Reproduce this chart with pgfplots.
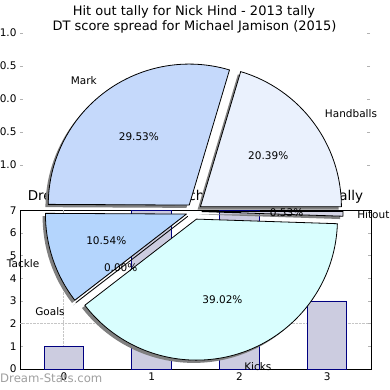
\documentclass[border=0pt]{standalone}
\usepackage{pgfplots}
\pgfplotsset{compat=1.18}
\usepackage{fontspec}
\setmainfont{DejaVu Sans}
\definecolor{cHand}{HTML}{EAF1FD}
\definecolor{cMark}{HTML}{C5D9FB}
\definecolor{cTack}{HTML}{B4D5FD}
\definecolor{cGoal}{HTML}{C0E0F0}
\definecolor{cKick}{HTML}{D9FEFE}
\definecolor{cHit}{HTML}{D5D5E5}
\definecolor{barfill}{HTML}{CCCCE0}
\definecolor{baredge}{HTML}{000080}
\def\piedata{20.39/Handballs/cHand, 29.53/Mark/cMark, 10.54/Tackle/cTack, 0.00/Goals/cGoal, 39.02/Kicks/cKick, 0.53/Hitout/cHit}
\def\pieR{141}
\def\pieX{194}
\def\pieY{178.5}
\def\pieD{8}
\begin{document}
\begin{tikzpicture}[x=1pt,y=1pt]
% ---- top (pie) axis: ticks only
\begin{axis}[at={(20pt,225pt)}, anchor=south west, scale only axis,
  width=350pt, height=132pt, xmin=-1, xmax=1, ymin=-1, ymax=1,
  axis line style={draw=none}, xtick=\empty,
  ytick={-1,-0.5,0,0.5,1}, yticklabels={−1.0,−0.5,0.0,0.5,1.0},
  tick align=inside, major tick length=3pt,
  tick style={gray!60, line width=0.8pt},
  yticklabel style={font=\fontsize{10.5}{12}\selectfont},
  ytick pos=both, yticklabel pos=left]
  \addplot[draw=none] coordinates {(0,0)};
\end{axis}
% ---- bottom bar axis
\begin{axis}[at={(20pt,21pt)}, anchor=south west, scale only axis,
  width=351pt, height=158.7pt, xmin=-0.5, xmax=3.5, ymin=0, ymax=7,
  xtick={0,1,2,3}, xticklabels={0,1,2,3},
  ytick={0,1,2,3,4,5,6,7}, yticklabels={0,1,2,3,4,5,6,7},
  extra x ticks={0}, extra x tick labels={},
  extra y ticks={2}, extra y tick labels={},
  extra tick style={grid=major, major grid style={densely dotted, gray!45, line width=0.8pt}},
  tick align=inside, major tick length=3pt,
  tick style={gray!60, line width=0.8pt},
  axis line style={black, line width=0.8pt},
  ticklabel style={font=\fontsize{10.5}{12}\selectfont},
  title={Dream-Stats tally for Michael Jamison - 2017 tally},
  title style={font=\fontsize{13.5}{15}\selectfont, yshift=-3pt}]
  \addplot[ybar, bar width=0.45, fill=barfill, draw=baredge, line width=0.8pt]
    coordinates {(0,1) (1,7) (2,7) (3,3)};
\end{axis}
% ---- pie overlay axis
\begin{axis}[at={(0pt,0pt)}, anchor=south west, scale only axis,
  width=390pt, height=390pt, xmin=0, xmax=390, ymin=0, ymax=390,
  hide axis, clip=false]
  \addplot[draw=none] coordinates {(0,0)};
  \pgfplotsextra{
    % shadows
    \gdef\pieA{0}
    \foreach \v/\lab/\col in \piedata {
      \pgfmathsetmacro\pieB{\pieA+3.6*\v}
      \pgfmathsetmacro\am{(\pieA+\pieB)/2}
      \pgfmathsetmacro\cx{\pieX+\pieD*cos(\am)-2.8}
      \pgfmathsetmacro\cy{\pieY+\pieD*sin(\am)-2.8}
      \pgfmathsetmacro\px{\cx+\pieR*cos(\pieA)}
      \pgfmathsetmacro\py{\cy+\pieR*sin(\pieA)}
      \fill[black!50] (axis cs:\cx,\cy) -- (axis cs:\px,\py)
        arc[start angle=\pieA, end angle=\pieB, radius=\pieR pt] -- cycle;
      \xdef\pieA{\pieB}
    }
    % wedges
    \gdef\pieA{0}
    \foreach \v/\lab/\col in \piedata {
      \pgfmathsetmacro\pieB{\pieA+3.6*\v}
      \pgfmathsetmacro\am{(\pieA+\pieB)/2}
      \pgfmathsetmacro\cx{\pieX+\pieD*cos(\am)}
      \pgfmathsetmacro\cy{\pieY+\pieD*sin(\am)}
      \pgfmathsetmacro\px{\cx+\pieR*cos(\pieA)}
      \pgfmathsetmacro\py{\cy+\pieR*sin(\pieA)}
      \filldraw[fill=\col, draw=black, line width=0.8pt, line join=round]
        (axis cs:\cx,\cy) -- (axis cs:\px,\py)
        arc[start angle=\pieA, end angle=\pieB, radius=\pieR pt] -- cycle;
      \xdef\pieA{\pieB}
    }
    % labels
    \gdef\pieA{0}
    \foreach \v/\lab/\col in \piedata {
      \pgfmathsetmacro\pieB{\pieA+3.6*\v}
      \pgfmathsetmacro\am{(\pieA+\pieB)/2}
      \pgfmathsetmacro\ca{cos(\am)}
      \pgfmathsetmacro\cx{\pieX+\pieD*cos(\am)}
      \pgfmathsetmacro\cy{\pieY+\pieD*sin(\am)}
      \pgfmathsetmacro\lx{\cx+1.1*\pieR*cos(\am)}
      \pgfmathsetmacro\ly{\cy+1.1*\pieR*sin(\am)}
      \pgfmathsetmacro\tx{\cx+0.6*\pieR*cos(\am)}
      \pgfmathsetmacro\ty{\cy+0.6*\pieR*sin(\am)}
      \ifdim\ca pt>0pt \def\anc{west}\else\def\anc{east}\fi
      \node[anchor=\anc, inner sep=0pt, font=\fontsize{10.5}{12}\selectfont] at (axis cs:\lx,\ly) {\lab};
      \node[inner sep=0pt, font=\fontsize{10.5}{12}\selectfont] at (axis cs:\tx,\ty) {\v\%};
      \xdef\pieA{\pieB}
    }
  }
\end{axis}
% titles and watermark
\node[anchor=base, font=\fontsize{13}{15}\selectfont, inner sep=0pt] at (194pt,374pt) {Hit out tally for Nick Hind - 2013 tally};
\node[anchor=base, font=\fontsize{13}{15}\selectfont, inner sep=0pt] at (194.5pt,359pt) {DT score spread for Michael Jamison (2015)};
\node[anchor=base west, font=\fontsize{11.7}{13}\selectfont, text=gray!75, inner sep=0pt] at (0pt,7pt) {Dream-Stats.com};
\pgfresetboundingbox
\useasboundingbox (0pt,0pt) rectangle (390pt,390pt);
\end{tikzpicture}
\end{document}
